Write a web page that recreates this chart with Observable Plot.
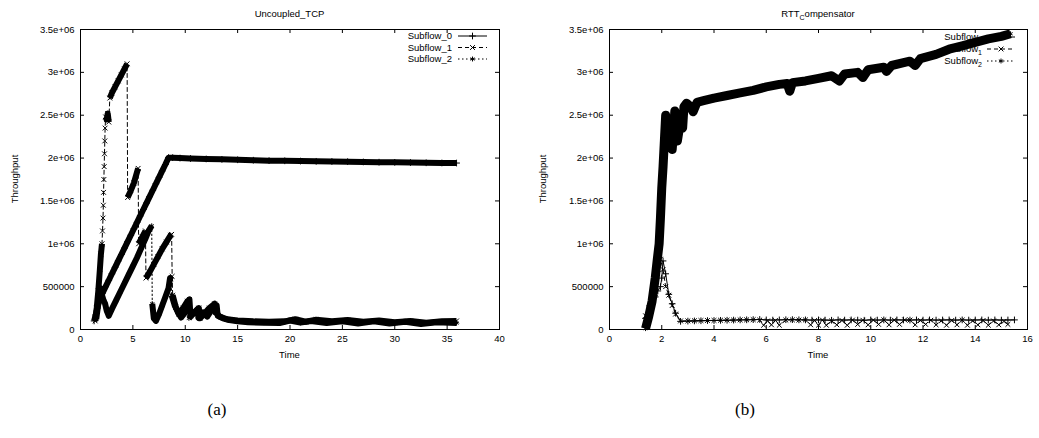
<!DOCTYPE html>
<html><head><meta charset="utf-8">
<script src="https://cdn.jsdelivr.net/npm/d3@7"></script>
<script src="https://cdn.jsdelivr.net/npm/@observablehq/plot@0.6"></script>
<style>
html,body{margin:0;padding:0;background:#fff;overflow:hidden;}
#fig{position:relative;width:1039px;height:438px;background:#fff;}
.panel{position:absolute;top:0;}
.sub{position:absolute;font-family:"Liberation Serif","DejaVu Serif",serif;font-size:17px;color:#000;transform:translate(-50%,-50%);}
</style></head><body><div id="fig"></div>
<script>
// ---------- labels ----------
const seriesNames = ["Subflow_0", "Subflow_1", "Subflow_2"];
const panelTitles = ["Uncoupled_TCP", "RTT_Compensator"];
const subCaptions = ["(a)", "(b)"];
const xLabel = "Time";
const yLabel = "Throughput";
const yTicks = [0, 500000, 1000000, 1500000, 2000000, 2500000, 3000000, 3500000];
const yTickLabels = ["0", "500000", "1e+06", "1.5e+06", "2e+06", "2.5e+06", "3e+06", "3.5e+06"];
const xTicksA = [0, 5, 10, 15, 20, 25, 30, 35, 40];
const xTicksB = [0, 2, 4, 6, 8, 10, 12, 14, 16];

// ---------- panel (a) Uncoupled_TCP : [time, throughput] ----------
const subflow0A = [[1.3,100000],[1.45,170000],[1.6,250000],[1.75,320000],[1.9,380000],[2.1,425000],[2.4,500000],[2.7,575000],[3.0,650000],[3.3,725000],[3.6,800000],[3.9,875000],[4.2,950000],[4.5,1025000],[4.8,1100000],[5.1,1175000],[5.4,1250000],[5.7,1325000],[6.0,1400000],[6.3,1475000],[6.6,1550000],[6.9,1625000],[7.2,1700000],[7.5,1775000],[7.8,1850000],[8.1,1925000],[8.4,2005000],[8.8,2005000],[9.5,2000000],[10.5,1995000],[12,1990000],[13.5,1985000],[15,1980000],[16.5,1975000],[18,1970000],[19.5,1968000],[21,1965000],[22.5,1962000],[24,1960000],[25.5,1958000],[27,1955000],[28.5,1952000],[30,1950000],[31.5,1948000],[33,1945000],[34.5,1943000],[35.9,1942000]];
const subflow1A = [[1.4,100000],[1.55,250000],[1.7,450000],[1.85,700000],[1.95,880000],[2.05,1000000],[2.1,1150000],[2.15,1300000],[2.18,1450000],[2.2,1600000],[2.23,1750000],[2.26,1900000],[2.29,2050000],[2.32,2200000],[2.35,2350000],[2.4,2480000],[2.5,2450000],[2.6,2520000],[2.7,2420000],[2.8,2700000],[3.0,2760000],[3.3,2830000],[3.6,2900000],[3.9,2970000],[4.2,3040000],[4.45,3100000],[4.5,1540000],[4.8,1620000],[5.1,1710000],[5.5,1880000],[5.55,1000000],[5.9,1080000],[6.2,1150000],[6.25,600000],[6.6,670000],[7.0,760000],[7.4,850000],[7.8,940000],[8.2,1020000],[8.6,1100000],[8.7,1110000],[8.75,620000],[8.8,400000],[9.1,260000],[9.4,180000],[9.8,250000],[10.2,330000],[10.4,350000],[10.5,160000],[10.9,200000],[11.3,250000],[11.4,130000],[11.8,180000],[12.3,250000],[12.8,300000],[12.9,200000],[13.3,150000],[14.0,120000],[15.0,105000],[16.5,95000],[18.0,90000],[19.5,95000],[20.5,120000],[21.5,90000],[22.5,115000],[24.0,95000],[25.5,110000],[27.0,90000],[28.5,105000],[30.0,85000],[31.5,100000],[33.0,80000],[34.5,95000],[35.9,100000]];
const subflow2A = [[1.5,120000],[1.7,300000],[1.85,430000],[1.95,480000],[2.05,400000],[2.2,340000],[2.35,300000],[2.5,220000],[2.7,160000],[3.0,240000],[3.4,340000],[3.8,440000],[4.2,540000],[4.6,640000],[5.0,740000],[5.4,840000],[5.8,950000],[6.2,1060000],[6.5,1150000],[6.8,1210000],[6.85,300000],[7.0,130000],[7.2,100000],[7.5,180000],[7.8,280000],[8.1,380000],[8.4,480000],[8.55,600000],[8.65,580000],[8.7,400000],[9.0,280000],[9.3,200000],[9.6,140000],[10.0,200000],[10.3,260000],[10.35,130000],[10.8,190000],[11.2,240000],[11.25,140000],[11.7,200000],[12.1,150000],[12.6,240000],[13.0,280000],[13.1,160000],[13.6,130000],[14.2,110000],[15.0,95000],[16.0,85000],[17.5,80000],[19.0,75000],[20.0,105000],[21.0,80000],[22.0,100000],[23.5,75000],[25.0,95000],[26.5,70000],[28.0,95000],[29.5,70000],[31.0,90000],[32.5,65000],[34.0,85000],[35.9,75000]];

// ---------- panel (b) RTT_Compensator : [time, throughput] ----------
const subflow0B = [[1.38,130000],[1.5,200000],[1.63,300000],[1.75,380000],[1.85,450000],[1.95,500000],[2.0,600000],[2.05,800000],[2.15,650000],[2.27,410000],[2.4,300000],[2.53,190000],[2.72,95000],[3.0,98000],[3.25,100000],[3.5,102000],[3.75,104000],[4.0,105000],[4.25,107000],[4.5,108000],[4.75,110000],[5.0,112000],[5.25,113000],[5.5,115000],[5.75,117000],[6.0,112000],[6.25,110000],[6.5,112000],[6.75,114000],[7.0,115000],[7.25,113000],[7.5,112000],[7.75,110000],[8.0,112000],[8.25,110000],[8.5,108000],[8.75,112000],[9.0,110000],[9.25,112000],[9.5,110000],[9.75,108000],[10.0,112000],[10.25,110000],[10.5,112000],[10.75,110000],[11.0,112000],[11.25,111000],[11.5,110000],[11.75,112000],[12.0,110000],[12.25,112000],[12.5,110000],[12.75,111000],[13.0,112000],[13.25,110000],[13.5,112000],[13.75,110000],[14.0,111000],[14.25,112000],[14.5,110000],[14.75,112000],[15.0,110000],[15.25,111000],[15.5,112000]];
const subflow1B = [[1.38,160000],[1.5,250000],[1.63,380000],[1.75,420000],[1.85,650000],[1.95,820000],[2.05,700000],[2.15,500000],[2.27,400000],[2.4,280000],[2.53,180000],[2.72,100000],[3.0,100000],[3.25,102000],[3.5,104000],[3.75,105000],[4.0,106000],[4.25,108000],[4.5,109000],[4.75,110000],[5.0,112000],[5.25,113000],[5.5,115000],[5.75,110000],[5.9,50000],[6.05,100000],[6.2,55000],[6.35,105000],[6.5,50000],[6.75,110000],[7.0,112000],[7.25,110000],[7.5,112000],[7.7,55000],[7.85,105000],[8.0,50000],[8.15,110000],[8.3,50000],[8.5,100000],[8.7,55000],[8.9,105000],[9.1,50000],[9.3,110000],[9.5,60000],[9.7,108000],[9.9,55000],[10.1,110000],[10.3,60000],[10.5,112000],[10.7,55000],[10.9,110000],[11.1,60000],[11.3,112000],[11.5,110000],[11.7,55000],[11.9,105000],[12.1,60000],[12.3,108000],[12.5,55000],[12.7,100000],[12.9,50000],[13.1,105000],[13.3,55000],[13.5,110000],[13.7,50000],[13.9,100000],[14.1,55000],[14.3,105000],[14.5,50000],[14.7,100000],[14.9,55000],[15.1,95000],[15.25,60000]];
const subflow2B = [[1.38,10000],[1.5,150000],[1.63,330000],[1.75,600000],[1.83,820000],[1.9,1000000],[1.95,1300000],[2.0,1650000],[2.05,1900000],[2.1,2200000],[2.15,2500000],[2.2,2350000],[2.25,2150000],[2.3,2450000],[2.35,2250000],[2.4,2100000],[2.45,2300000],[2.5,2550000],[2.55,2350000],[2.6,2200000],[2.7,2400000],[2.8,2350000],[2.85,2600000],[2.95,2640000],[3.1,2600000],[3.2,2540000],[3.35,2650000],[3.6,2670000],[4.0,2700000],[4.5,2730000],[5.0,2760000],[5.5,2790000],[6.0,2830000],[6.5,2860000],[6.8,2870000],[6.9,2780000],[7.0,2880000],[7.5,2900000],[8.0,2930000],[8.5,2960000],[8.8,2900000],[9.0,2980000],[9.5,3000000],[9.7,2940000],[9.9,3030000],[10.5,3060000],[10.6,3010000],[10.8,3080000],[11.5,3130000],[11.7,3080000],[11.9,3160000],[12.5,3210000],[13.0,3270000],[13.5,3310000],[14.0,3350000],[14.5,3390000],[15.0,3420000],[15.35,3450000]];

// ---------- styles ----------
const symbols = ["plus", "times", "asterisk"];
const d3Symbols = [d3.symbolPlus, d3.symbolTimes, d3.symbolAsterisk];
const dashes = [null, "4,3", "1.5,2.5"];
const markR = 2.3;
const FONT = "'Liberation Sans', Arial, Helvetica, sans-serif";

const panels = [
  {left: 0, width: 519, height: 370, ml: 80, mr: 20, mt: 29, mb: 41, xDomain: [0, 40], xTicks: xTicksA,
   title: panelTitles[0], enhanced: false, series: [subflow0A, subflow1A, subflow2A], bands: [6, 6, 6],
   breakSlope: 2e6, legendTextX: 452, legendLine: [458, 487], legendRows: [36, 47.5, 59], yLabelX: 15, dataFirst: true},
  {left: 520, width: 519, height: 370, ml: 89, mr: 12, mt: 29, mb: 41, xDomain: [0, 16], xTicks: xTicksB,
   title: panelTitles[1], enhanced: true, series: [subflow0B, subflow1B, subflow2B], bands: [0, 0, 9],
   breakSlope: Infinity, legendTextX: 462, legendLine: [467, 495], legendRows: [37, 49, 61], yLabelX: 23, dataFirst: false}
];

function addText(parent, str, enhanced) {
  const t = parent.append("text");
  if (!enhanced) { t.text(str); return t; }
  const parts = str.split("_");
  t.append("tspan").text(parts[0]);
  for (let k = 1; k < parts.length; k++) {
    t.append("tspan").attr("font-size", "7px").attr("dy", 3).text(parts[k][0]);
    if (parts[k].length > 1) t.append("tspan").attr("dy", -3).text(parts[k].slice(1));
  }
  return t;
}

const fig = document.getElementById("fig");

panels.forEach((p, pi) => {
  const pw = p.width - p.ml - p.mr, ph = p.height - p.mt - p.mb;
  const marks = [];
  // inward ticks on all four sides
  marks.push(Plot.tickX(p.xTicks, {x: d => d, insetTop: ph - 4, stroke: "black"}));
  marks.push(Plot.tickX(p.xTicks, {x: d => d, insetBottom: ph - 4, stroke: "black"}));
  marks.push(Plot.tickY(yTicks, {y: d => d, insetRight: pw - 4, stroke: "black"}));
  marks.push(Plot.tickY(yTicks, {y: d => d, insetLeft: pw - 4, stroke: "black"}));
  marks.push(Plot.axisX({ticks: p.xTicks, tickSize: 0, tickPadding: 6, tickFormat: d => String(d), label: null, fill: "black"}));
  marks.push(Plot.axisY({ticks: yTicks, tickSize: 0, tickPadding: 6, tickFormat: d => yTickLabels[yTicks.indexOf(d)], label: null, fill: "black"}));

  p.series.forEach((s, si) => {
    let seg = 0;
    const rows = s.map(([t, v], i) => {
      if (i > 0 && Math.abs(v - s[i - 1][1]) / (t - s[i - 1][0]) > p.breakSlope) seg++;
      return {t, v, seg};
    });
    if (p.bands[si] > 0) {
      marks.push(Plot.line(rows, {x: "t", y: "v", z: "seg", stroke: "black", strokeWidth: p.bands[si], strokeLinejoin: "round", strokeLinecap: "butt"}));
    }
    marks.push(Plot.line(rows, {x: "t", y: "v", stroke: "black", strokeWidth: 1, strokeDasharray: dashes[si]}));
    marks.push(Plot.dot(rows, {x: "t", y: "v", symbol: symbols[si], r: markR, stroke: "black", strokeWidth: 1, fill: "none"}));
  });
  marks.push(Plot.frame({stroke: "black", strokeWidth: 1}));

  const svgEl = Plot.plot({
    width: p.width, height: p.height,
    marginLeft: p.ml, marginRight: p.mr, marginTop: p.mt, marginBottom: p.mb,
    x: {domain: p.xDomain},
    y: {domain: [0, 3500000]},
    style: {fontFamily: FONT, fontSize: "9.5px", color: "black", background: "transparent", overflow: "visible"},
    marks
  });
  svgEl.setAttribute("class", (svgEl.getAttribute("class") || "") + " panel");
  svgEl.style.position = "absolute";
  svgEl.style.left = p.left + "px";
  svgEl.style.top = "0px";
  fig.appendChild(svgEl);

  const svg = d3.select(svgEl);
  const cx = p.ml + pw / 2;
  // title
  addText(svg, p.title, p.enhanced).attr("x", cx).attr("y", 17.3).attr("text-anchor", "middle").attr("fill", "black");
  // x label
  svg.append("text").text(xLabel).attr("x", cx).attr("y", 357.5).attr("text-anchor", "middle").attr("fill", "black");
  // y label
  svg.append("text").text(yLabel).attr("transform", `translate(${p.yLabelX},${p.mt + ph / 2}) rotate(-90)`)
    .attr("text-anchor", "middle").attr("dy", "0.35em").attr("fill", "black");

  // legend (drawn beneath the data in panel b)
  const firstLine = svgEl.querySelector('g[aria-label="line"]');
  const lg = p.dataFirst ? svg.append("g") : svg.insert("g", () => firstLine);
  seriesNames.forEach((name, si) => {
    const y = p.legendRows[si];
    addText(lg, name, p.enhanced).attr("x", p.legendTextX).attr("y", y + 3.3).attr("text-anchor", "end").attr("fill", "black");
    const ln = lg.append("line").attr("x1", p.legendLine[0]).attr("x2", p.legendLine[1]).attr("y1", y).attr("y2", y)
      .attr("stroke", "black").attr("stroke-width", 1);
    if (dashes[si]) ln.attr("stroke-dasharray", dashes[si]);
    lg.append("path").attr("d", d3.symbol(d3Symbols[si], Math.PI * markR * markR)())
      .attr("transform", `translate(${(p.legendLine[0] + p.legendLine[1]) / 2},${y})`)
      .attr("stroke", "black").attr("fill", "none").attr("stroke-width", 1);
  });
});

// sub-captions
[[217, 410], [745, 410]].forEach(([x, y], i) => {
  const d = document.createElement("div");
  d.className = "sub";
  d.style.left = x + "px";
  d.style.top = y + "px";
  d.textContent = subCaptions[i];
  fig.appendChild(d);
});
</script>
</body></html>
